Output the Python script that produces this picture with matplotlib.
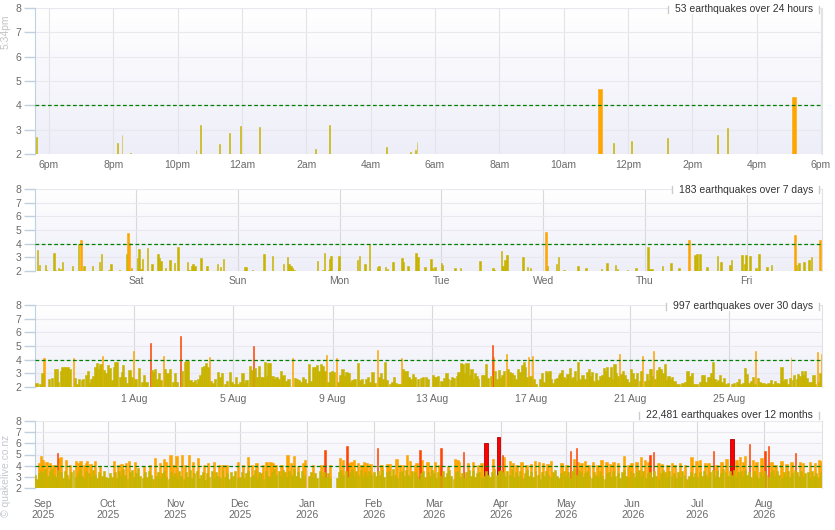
import numpy as np
import matplotlib
matplotlib.use('Agg')
import matplotlib.pyplot as plt
from matplotlib.colors import LinearSegmentedColormap
from matplotlib.patches import Rectangle
from matplotlib.lines import Line2D
from matplotlib.transforms import IdentityTransform

plt.rcParams['font.family'] = ['Liberation Sans', 'DejaVu Sans']

# ---- data: 24 hours (time in hours from midnight of the previous day, magnitude) ----
day_t = [17.62, 20.14, 20.27, 20.52, 22.57, 22.70, 23.29, 23.60, 23.94, 24.55,
         26.27, 26.71, 28.48, 29.23, 29.38, 29.44, 35.14, 35.54, 36.10, 37.22,
         38.78, 39.09, 41.16]
day_m = [2.7, 2.45, 2.8, 2.05, 2.15, 3.2, 2.4, 2.85, 3.15, 3.1,
         2.2, 3.2, 2.3, 2.1, 2.15, 2.5, 4.67, 2.45, 2.55, 2.65,
         2.8, 3.05, 4.34]
day_ticks = [18, 20, 22, 24, 26, 28, 30, 32, 34, 36, 38, 40, 42]
day_labels = ['6pm', '8pm', '10pm', '12am', '2am', '4am', '6am', '8am', '10am',
              '12pm', '2pm', '4pm', '6pm']

# ---- data: 7 days (time in days, Sat = 1) ----
week_t = [0.034, 0.050, 0.113, 0.122, 0.195, 0.204, 0.240, 0.260, 0.280, 0.378,
          0.437, 0.460, 0.489, 0.574, 0.640, 0.663, 0.735, 0.754, 0.840, 0.908,
          0.921, 0.935, 0.957, 1.016, 1.029, 1.049, 1.065, 1.115, 1.157, 1.216,
          1.229, 1.246, 1.291, 1.334, 1.380, 1.413, 1.508, 1.521, 1.550, 1.560,
          1.580, 1.639, 1.697, 1.802, 1.832, 1.861, 2.064, 2.081, 2.146, 2.257,
          2.342, 2.451, 2.490, 2.506, 2.523, 2.539, 2.552, 2.785, 2.840, 2.853,
          2.896, 2.906, 2.916, 2.988, 2.994, 3.177, 3.197, 3.250, 3.295, 3.374,
          3.387, 3.453, 3.469, 3.525, 3.613, 3.626, 3.672, 3.750, 3.773, 3.839,
          3.898, 3.911, 3.937, 4.003, 4.012, 4.134, 4.189, 4.379, 4.507, 4.517,
          4.592, 4.608, 4.625, 4.644, 4.805, 4.847, 4.877, 5.028, 5.041, 5.132,
          5.149, 5.204, 5.342, 5.420, 5.574, 5.627, 5.712, 5.732, 5.830, 5.912,
          6.029, 6.052, 6.069, 6.174, 6.255, 6.337, 6.432, 6.491, 6.514, 6.540,
          6.609, 6.714, 6.747, 6.838, 6.851, 6.953, 6.982, 6.995, 7.031, 7.094,
          7.120, 7.202, 7.244, 7.473, 7.490, 7.513, 7.562, 7.614, 7.637, 7.719]
week_m = [3.55, 2.45, 2.45, 2.1, 3.3, 2.05, 2.2, 2.15, 2.65, 2.4,
          3.95, 4.27, 2.4, 2.4, 2.65, 3.25, 2.1, 2.5, 2.1, 3.25,
          4.78, 4.05, 2.2, 2.95, 3.6, 2.15, 2.9, 3.65, 2.5, 3.25,
          2.95, 2.75, 2.25, 2.8, 2.55, 3.75, 2.65, 2.1, 2.4, 2.5,
          2.4, 2.95, 2.4, 2.5, 2.3, 2.9, 2.3, 2.3, 2.05, 3.25,
          3.1, 2.5, 3.0, 2.5, 2.4, 2.25, 2.1, 2.75, 2.05, 3.35,
          2.05, 2.9, 3.1, 2.3, 3.1, 2.8, 3.1, 2.5, 3.95, 2.3,
          2.4, 2.3, 2.15, 2.65, 2.95, 2.65, 2.4, 3.3, 3.05, 2.3,
          2.9, 2.25, 2.3, 2.6, 2.45, 2.2, 2.2, 2.75, 2.2, 2.05,
          3.45, 2.4, 2.8, 3.15, 3.05, 2.3, 2.2, 4.83, 2.4, 2.5,
          3.0, 2.05, 2.4, 2.2, 2.15, 2.6, 2.45, 2.15, 2.05, 2.2,
          3.75, 2.15, 2.15, 2.4, 2.6, 2.2, 4.27, 3.15, 3.25, 3.25,
          2.3, 3.1, 2.65, 2.45, 2.8, 3.15, 2.5, 3.15, 3.1, 2.2,
          3.25, 2.3, 2.45, 4.63, 2.45, 2.55, 2.65, 2.8, 3.0, 4.27]
week_ticks = [1, 2, 3, 4, 5, 6, 7]
week_labels = ['Sat', 'Sun', 'Mon', 'Tue', 'Wed', 'Thu', 'Fri']

# ---- data: 30 days (time in days after 1 Aug 00:00) ----
month_t = [-3.94, -3.80, -3.70, -3.66, -3.60, -3.43, -3.33, -3.20, -3.10, -3.06,
           -2.96, -2.89, -2.80, -2.69, -2.58, -2.45, -2.38, -2.30, -2.22, -2.12,
           -2.06, -1.95, -1.87, -1.81, -1.72, -1.65, -1.56, -1.49, -1.42, -1.36,
           -1.28, -1.21, -1.14, -1.05, -0.98, -0.90, -0.82, -0.75, -0.69, -0.58,
           -0.50, -0.44, -0.36, -0.28, -0.19, -0.11, -0.03, 0.05, 0.20, 0.30,
           0.39, 0.50, 0.65, 0.71, 0.78, 0.85, 0.91, 0.99, 1.06, 1.18,
           1.24, 1.34, 1.44, 1.57, 1.65, 1.73, 1.87, 1.92, 2.04, 2.11,
           2.18, 2.27, 2.35, 2.45, 2.51, 2.58, 2.65, 2.74, 2.81, 2.89,
           2.97, 3.02, 3.10, 3.19, 3.25, 3.39, 3.45, 3.55, 3.66, 3.75,
           3.86, 3.94, 4.02, 4.10, 4.18, 4.26, 4.37, 4.46, 4.53, 4.66,
           4.74, 4.81, 4.88, 4.95, 5.04, 5.11, 5.17, 5.26, 5.34, 5.40,
           5.47, 5.58, 5.66, 5.74, 5.82, 5.91, 5.98, 6.05, 6.14, 6.22,
           6.38, 6.47, 6.55, 6.63, 6.71, 6.81, 6.90, 6.98, 7.06, 7.14,
           7.22, 7.30, 7.38, 7.46, 7.53, 7.59, 7.67, 7.76, 7.82, 7.89,
           7.97, 8.05, 8.16, 8.24, 8.32, 8.40, 8.48, 8.56, 8.64, 8.72,
           8.80, 8.88, 9.03, 9.10, 9.18, 9.26, 9.34, 9.42, 9.50, 9.61,
           9.69, 9.81, 9.89, 9.96, 10.04, 10.11, 10.20, 10.31, 10.39, 10.47,
           10.55, 10.66, 10.71, 10.79, 10.85, 10.91, 10.99, 11.06, 11.14, 11.25,
           11.32, 11.45, 11.56, 11.65, 11.75, 11.86, 12.06, 12.15, 12.26, 12.39,
           12.50, 12.59, 12.66, 12.76, 12.82, 12.90, 13.00, 13.07, 13.16, 13.24,
           13.33, 13.39, 13.47, 13.54, 13.60, 13.67, 13.74, 13.81, 13.87, 14.01,
           14.10, 14.19, 14.26, 14.38, 14.45, 14.49, 14.56, 14.64, 14.71, 14.79,
           14.85, 14.92, 15.01, 15.08, 15.15, 15.21, 15.30, 15.38, 15.46, 15.55,
           15.62, 15.70, 15.77, 15.84, 15.91, 15.98, 16.06, 16.13, 16.21, 16.36,
           16.43, 16.51, 16.59, 16.65, 16.74, 16.80, 16.90, 16.96, 17.06, 17.12,
           17.19, 17.26, 17.33, 17.39, 17.47, 17.57, 17.64, 17.70, 17.77, 17.84,
           17.90, 17.98, 18.07, 18.17, 18.27, 18.33, 18.40, 18.47, 18.55, 18.62,
           18.71, 18.78, 18.85, 18.93, 18.99, 19.07, 19.14, 19.21, 19.27, 19.36,
           19.42, 19.49, 19.57, 19.64, 19.72, 19.79, 19.85, 19.95, 20.03, 20.11,
           20.19, 20.28, 20.38, 20.44, 20.51, 20.59, 20.67, 20.74, 20.82, 20.89,
           20.94, 21.01, 21.09, 21.17, 21.24, 21.32, 21.39, 21.47, 21.54, 21.60,
           21.67, 21.78, 21.87, 21.98, 22.11, 22.21, 22.31, 22.39, 22.48, 22.56,
           22.67, 22.81, 22.90, 22.98, 23.06, 23.15, 23.24, 23.32, 23.40, 23.48,
           23.55, 23.62, 23.68, 23.79, 23.86, 23.93, 24.09, 24.19, 24.29, 24.37,
           24.45, 24.56, 24.63, 24.71, 24.79, 24.87, 24.95, 25.02, 25.06, 25.14,
           25.23, 25.32, 25.40, 25.46, 25.57, 25.67, 25.74, 25.83, 25.94, 26.03,
           26.10, 26.18, 26.26, 26.34, 26.43, 26.48, 26.55, 26.61, 26.71, 26.77,
           26.84, 26.91, 26.98, 27.05, 27.11, 27.21, 27.29, 27.39, 27.46, 27.53,
           27.61, 27.66, 27.71]
month_m = [2.3, 2.2, 3.0, 4.1, 4.15, 2.6, 2.65, 3.3, 3.3, 2.4,
           3.15, 3.45, 3.5, 3.45, 3.35, 4.1, 2.65, 2.2, 2.6, 2.5,
           2.55, 2.85, 3.2, 2.3, 2.6, 2.8, 3.5, 3.75, 3.3, 3.65,
           4.3, 3.25, 3.0, 3.6, 3.4, 2.5, 3.5, 3.85, 3.8, 2.7,
           3.1, 3.6, 2.75, 2.3, 3.25, 2.75, 4.65, 2.55, 3.4, 2.4,
           2.9, 2.4, 5.2, 3.25, 3.1, 3.35, 2.6, 3.0, 2.5, 4.25,
           3.35, 3.0, 3.35, 2.35, 3.0, 2.4, 5.75, 3.2, 3.85, 3.9,
           3.9, 2.5, 2.35, 2.5, 2.25, 2.55, 2.85, 3.5, 3.55, 3.75,
           3.45, 4.2, 2.45, 2.3, 2.6, 3.1, 2.7, 3.05, 2.2, 2.45,
           3.1, 2.35, 2.2, 2.7, 2.2, 2.35, 3.05, 2.3, 2.5, 3.55,
           3.25, 5.0, 3.4, 2.75, 3.55, 2.7, 2.7, 3.8, 2.8, 3.75,
           3.75, 2.8, 2.6, 2.7, 2.55, 3.2, 2.8, 2.9, 2.45, 2.6,
           4.15, 2.65, 2.6, 2.5, 2.35, 2.75, 2.6, 2.3, 3.7, 2.45,
           3.5, 3.45, 3.6, 3.2, 3.7, 3.55, 3.15, 4.35, 2.4, 3.1,
           3.2, 3.1, 4.15, 2.4, 2.9, 3.3, 2.8, 3.1, 3.0, 2.4,
           2.5, 2.6, 3.75, 2.5, 2.6, 2.25, 2.6, 2.7, 2.4, 3.1,
           2.3, 4.7, 2.7, 3.05, 2.6, 3.8, 2.5, 2.2, 2.35, 2.7,
           2.3, 2.2, 2.2, 4.1, 3.35, 3.15, 3.2, 2.75, 2.6, 2.95,
           2.7, 2.6, 2.65, 2.75, 2.7, 2.6, 2.9, 2.75, 2.8, 2.45,
           2.65, 3.0, 2.6, 2.5, 2.75, 2.65, 2.8, 3.1, 3.75, 3.7,
           3.0, 3.75, 3.75, 2.9, 3.35, 2.6, 3.05, 2.8, 2.55, 2.85,
           2.9, 3.65, 2.65, 2.8, 5.05, 4.2, 3.2, 2.6, 3.25, 2.65,
           2.9, 3.2, 4.45, 3.35, 3.1, 3.05, 2.9, 2.6, 3.3, 3.1,
           3.6, 3.85, 3.45, 2.75, 4.2, 2.8, 4.25, 2.55, 2.2, 2.6,
           3.0, 2.4, 3.2, 3.05, 3.15, 2.6, 2.3, 2.55, 2.65, 2.85,
           3.0, 3.25, 2.75, 2.6, 2.95, 3.4, 2.6, 2.75, 3.15, 2.45,
           3.85, 2.55, 2.85, 2.6, 3.1, 3.3, 2.8, 3.1, 2.45, 3.0,
           2.5, 2.8, 2.9, 3.4, 3.2, 3.45, 2.75, 3.5, 2.55, 3.7,
           3.05, 2.8, 4.45, 2.95, 3.15, 2.9, 2.6, 2.35, 3.35, 3.05,
           2.6, 3.0, 2.45, 3.2, 4.3, 2.45, 2.95, 2.5, 3.3, 2.8,
           4.6, 2.6, 3.25, 3.45, 3.3, 3.05, 3.7, 2.5, 2.8, 2.55,
           2.7, 2.45, 2.25, 2.2, 2.3, 2.4, 3.2, 2.8, 3.0, 2.25,
           2.25, 2.35, 2.9, 2.85, 2.4, 2.75, 3.0, 3.85, 2.55, 2.35,
           2.5, 2.85, 2.4, 2.65, 2.25, 2.3, 2.25, 2.3, 2.4, 2.6,
           2.25, 2.3, 3.4, 2.95, 2.3, 2.45, 2.7, 2.25, 4.65, 2.65,
           2.4, 2.3, 2.3, 2.25, 2.3, 2.5, 2.25, 2.45, 2.3, 2.2,
           3.5, 2.45, 2.55, 2.25, 2.65, 4.2, 2.5, 2.85, 2.6, 2.95,
           2.8, 3.15, 2.85, 3.15, 2.65, 2.4, 2.35, 2.85, 2.2, 4.55,
           2.35, 3.0, 4.45]
month_ticks = [0, 4, 8, 12, 16, 20, 24]
month_labels = ['1 Aug', '5 Aug', '9 Aug', '13 Aug', '17 Aug', '21 Aug', '25 Aug']

# ---- data: 12 months (days after 1 Sep 2025) ----
# daily upper level of the bulk of small quakes, 28 Aug 2025 .. 27 Aug 2026
base_pre = [3.2, 2.8, 3.3, 3.5]
base_sep = [3.4, 3.7, 3.1, 3.5, 3.8, 3.2, 3.0, 3.6, 3.4, 2.9, 3.5, 3.2, 2.8, 3.4, 3.6,
            3.0, 3.3, 3.7, 3.1, 2.9, 3.5, 3.3, 3.0, 3.6, 3.2, 2.9, 3.4, 3.1, 3.5, 3.0]
base_oct = [2.9, 3.3, 3.0, 3.4, 2.9, 3.5, 3.1, 3.7, 3.2, 2.8, 3.4, 3.6, 3.0, 3.3, 3.8, 3.1,
            2.9, 3.4, 3.0, 3.5, 3.2, 2.8, 3.1, 3.4, 2.9, 3.3, 3.5, 3.0, 2.8, 3.4, 3.1]
base_nov = [3.3, 2.9, 3.5, 3.1, 2.8, 3.4, 3.0, 3.6, 2.9, 3.3, 3.5, 2.9, 3.2, 3.4, 2.7,
            3.3, 3.0, 3.5, 2.9, 3.4, 3.1, 2.9, 3.6, 3.0, 3.3, 2.8, 3.4, 3.1, 3.5, 2.9]
base_dec = [3.0, 3.4, 2.9, 3.3, 3.5, 3.0, 3.2, 3.6, 2.9, 3.4, 3.3, 2.8, 3.5, 3.1, 3.0, 3.4,
            3.7, 3.2, 3.5, 3.1, 3.6, 3.4, 3.0, 3.5, 3.2, 3.7, 3.1, 3.4, 2.9, 3.5, 3.2]
base_jan = [0, 3.1, 3.4, 3.0, 3.3, 2.9, 3.5, 3.1, 3.4, 3.0, 3.3, 2.9, 0, 0, 2.9, 3.4,
            3.6, 3.2, 3.5, 3.0, 3.4, 3.7, 3.1, 3.5, 3.2, 3.6, 3.0, 3.4, 3.1, 3.5, 3.2]
base_feb = [3.4, 3.1, 3.5, 3.2, 3.6, 3.0, 3.4, 3.5, 3.1, 3.7, 3.2, 2.9, 3.4, 3.5,
            3.1, 3.6, 3.2, 3.0, 3.5, 3.4, 3.1, 2.8, 3.3, 3.5, 3.0, 3.4, 3.1, 3.6]
base_mar = [3.3, 2.9, 3.4, 3.1, 3.5, 3.0, 3.3, 3.6, 3.1, 2.8, 3.4, 3.5, 3.0, 3.3, 2.9, 3.4,
            3.6, 3.1, 3.5, 3.0, 3.3, 3.4, 2.9, 3.1, 3.5, 3.2, 3.0, 3.4, 3.7, 3.2, 3.5]
base_apr = [3.6, 3.4, 3.1, 3.5, 3.2, 3.7, 3.0, 3.4, 3.1, 3.5, 2.9, 3.3, 3.6, 3.1, 3.4,
            3.0, 3.5, 3.2, 2.8, 3.4, 3.1, 3.5, 3.2, 3.0, 3.4, 3.6, 3.1, 2.9, 3.3, 3.5]
base_may = [3.1, 3.4, 2.9, 3.5, 3.7, 3.2, 3.6, 3.4, 3.0, 3.3, 3.5, 3.1, 2.9, 3.4, 3.2, 3.0,
            3.5, 3.1, 2.8, 3.3, 3.4, 3.0, 3.5, 3.1, 3.3, 2.9, 3.4, 3.6, 3.1, 3.0, 3.5]
base_jun = [3.3, 3.0, 3.4, 3.6, 3.1, 3.5, 2.9, 3.3, 3.4, 3.0, 3.5, 3.1, 2.8, 3.3, 3.6,
            3.4, 3.0, 3.5, 3.1, 3.3, 2.9, 3.4, 3.0, 3.5, 3.2, 2.8, 3.1, 3.4, 3.0, 3.3]
base_jul = [3.0, 3.4, 3.1, 3.5, 3.2, 2.9, 3.4, 3.6, 3.1, 3.5, 3.0, 3.3, 3.7, 3.4, 3.1, 3.5,
            3.2, 3.6, 3.0, 3.4, 3.5, 3.1, 3.6, 3.2, 3.4, 3.0, 3.5, 3.2, 2.9, 3.4, 3.1]
base_aug = [3.5, 3.2, 3.0, 3.4, 3.6, 3.1, 3.5, 3.2, 2.9, 3.4, 3.1, 3.5, 3.0, 3.3,
            3.6, 3.4, 3.1, 3.5, 3.0, 3.3, 3.4, 2.9, 3.5, 3.1, 3.3, 3.0, 3.4]

# larger quakes over the 12 months
year_t = [-1.85, -0.93, -0.31, 1.54, 3.09, 4.63, 5.40, 6.64, 7.26, 8.18,
          10.50, 12.35, 15.13, 16.21, 17.29, 18.84, 19.76, 20.38, 21.92, 24.09,
          26.25, 32.73, 34.74, 36.28, 38.29, 39.68, 42.46, 46.63, 49.41, 51.72,
          54.04, 55.89, 56.82, 58.98, 60.21, 61.76, 64.38, 65.62, 67.47, 69.48,
          71.79, 74.42, 76.42, 79.20, 81.52, 83.06, 84.92, 90.32, 92.64, 94.80,
          96.80, 98.81, 101.90, 103.44, 105.30, 106.22, 107.77, 110.39, 113.17, 114.71,
          116.26, 118.11, 120.43, 121.20, 125.06, 128.92, 130.46, 132.78, 137.41, 138.95,
          140.65, 141.73, 142.81, 143.89, 145.90, 147.44, 148.53, 149.76, 151.61, 154.86,
          156.71, 159.49, 160.57, 163.66, 165.20, 166.74, 168.60, 169.83, 172.15, 172.93,
          174.47, 175.24, 178.02, 179.56, 181.42, 183.27, 184.19, 187.59, 190.68, 191.91,
          192.69, 194.54, 196.85, 199.17, 201.49, 203.03, 204.97, 208.44, 210.92, 212.61,
          213.54, 216.17, 217.71, 219.26, 221.57, 223.89, 225.90, 227.75, 229.60, 231.61,
          233.62, 235.16, 240.10, 242.42, 244.27, 245.97, 246.90, 247.82, 249.37, 250.91,
          252.46, 254.77, 256.78, 258.63, 260.95, 262.49, 264.04, 266.35, 268.98, 270.99,
          272.53, 274.85, 276.85, 278.71, 280.25, 281.02, 282.72, 284.88, 286.73, 289.20,
          291.36, 292.60, 294.91, 297.23, 300.32, 302.64, 304.18, 306.50, 308.04, 310.36,
          311.90, 314.22, 316.53, 319.00, 321.17, 322.71, 324.25, 325.03, 327.03, 328.88,
          330.43, 332.74, 334.29, 335.83, 337.38, 339.23, 342.01, 344.32, 346.64, 348.49,
          350.50, 352.04, 355.13, 357.45, 359.30, 360.40]
year_m = [4.25, 4.85, 4.5, 4.3, 4.25, 4.05, 4.1, 5.1, 4.7, 4.75,
          4.5, 4.1, 4.45, 4.25, 4.4, 4.05, 4.25, 4.4, 4.15, 4.45,
          4.0, 4.4, 4.05, 4.15, 4.2, 4.4, 4.3, 4.0, 4.05, 4.7,
          4.2, 4.6, 4.35, 4.95, 4.05, 4.9, 4.95, 4.1, 4.95, 4.35,
          4.7, 4.05, 4.2, 4.35, 4.1, 4.05, 4.1, 4.35, 4.1, 4.75,
          4.1, 4.2, 4.05, 4.3, 4.3, 4.2, 4.1, 4.05, 4.95, 4.25,
          4.85, 4.0, 4.25, 4.5, 4.1, 4.05, 5.4, 4.1, 4.7, 4.5,
          5.75, 4.25, 4.35, 4.5, 4.25, 4.1, 4.35, 4.2, 4.15, 5.55,
          4.05, 4.15, 4.15, 4.6, 4.05, 4.1, 4.95, 4.4, 4.05, 4.2,
          5.4, 4.5, 4.3, 4.0, 4.3, 4.05, 5.55, 4.0, 4.6, 4.55,
          4.35, 5.25, 4.2, 4.3, 4.05, 4.25, 6.05, 4.6, 6.57, 5.0,
          4.75, 4.4, 4.2, 4.05, 4.35, 4.1, 4.15, 4.4, 4.35, 4.2,
          4.15, 4.4, 4.25, 4.05, 5.3, 4.6, 5.55, 4.3, 4.25, 4.4,
          4.1, 4.3, 4.05, 4.5, 4.35, 4.15, 4.3, 4.2, 4.85, 4.05,
          4.25, 4.35, 4.75, 4.55, 4.3, 5.0, 5.2, 4.2, 4.15, 4.05,
          4.2, 4.1, 4.25, 4.1, 4.8, 4.4, 4.55, 4.25, 4.2, 5.35,
          4.1, 4.3, 4.6, 6.42, 4.55, 4.75, 4.35, 4.85, 5.9, 4.5,
          4.3, 4.65, 5.3, 5.75, 4.35, 4.1, 4.4, 4.15, 4.3, 5.15,
          4.35, 4.2, 4.3, 4.2, 4.5, 4.4]
year_ticks = [0, 30, 61, 91, 122, 153, 181, 212, 242, 273, 303, 334]
year_labels = ['Sep\n2025', 'Oct\n2025', 'Nov\n2025', 'Dec\n2025', 'Jan\n2026', 'Feb\n2026',
               'Mar\n2026', 'Apr\n2026', 'May\n2026', 'Jun\n2026', 'Jul\n2026', 'Aug\n2026']

titles = ['53 earthquakes over 24 hours', '183 earthquakes over 7 days',
          '997 earthquakes over 30 days', '22,481 earthquakes over 12 months']

# colours by magnitude class: <4, 4-5, 5-6, 6+
COLORS = ['#c8b400', '#ffa500', '#ff4500', '#ff0000']
BG = LinearSegmentedColormap.from_list('bg', ['#eeeef9', '#ffffff'])

W, H = 835, 530
fig = plt.figure(figsize=(W / 100, H / 100), dpi=100)


def add_panel(top, bottom):
    return fig.add_axes([35 / W, 1 - bottom / H, 787 / W, (bottom - top) / H])


def style_panel(ax, xlim, ticks, labels, xpad, vgrid='#d9d9d9'):
    ax.imshow(np.linspace(0, 1, 64).reshape(-1, 1), extent=(xlim[0], xlim[1], 2, 8),
              origin='lower', aspect='auto', cmap=BG, zorder=0)
    ax.set_xlim(xlim)
    ax.set_ylim(2, 8)
    ax.set_yticks(range(2, 9))
    ax.set_xticks(ticks)
    ax.set_xticklabels(labels)
    ax.tick_params(axis='y', length=8, width=1, color='#c0d0e0', pad=2,
                   labelsize=7.5, labelcolor='#6a6a6a')
    ax.tick_params(axis='x', length=0, pad=xpad, labelsize=7.5, labelcolor='#6a6a6a')
    for s in ('top', 'bottom'):
        ax.spines[s].set_visible(False)
    ax.spines['left'].set_color('#c0d0e0')
    ax.spines['right'].set_color('#e2e2e2')
    ax.grid(axis='y', color='#e8e8ee', lw=0.8)
    ax.grid(axis='x', color=vgrid, lw=0.8)
    ax.set_axisbelow(True)
    ax.axhline(4, color='#008000', lw=0.9, ls=(0, (3, 2)), zorder=4)


def draw_quakes(ax, t, m, widths):
    t = np.asarray(t, float)
    m = np.asarray(m, float)
    keep = m > 2
    t, m = t[keep], m[keep]
    cls = np.digitize(m, [4, 5, 6])
    for c in (1, 2, 3, 0):
        sel = cls == c
        if sel.any():
            ax.bar(t[sel], m[sel] - 2, bottom=2, width=widths[c], color=COLORS[c],
                   edgecolor='#b00000' if c == 3 else COLORS[c],
                   linewidth=0.6 if c == 3 else 0.4,
                   zorder=3 if c == 0 else 2)


ax1 = add_panel(8, 154)
style_panel(ax1, (17.565, 42.03), day_ticks, day_labels, 4.5, vgrid='#e4e4e8')
draw_quakes(ax1, day_t, day_m, [0.03, 0.12, 0.12, 0.12])

ax2 = add_panel(189, 271)
style_panel(ax2, (0.008, 7.74), week_ticks, week_labels, 3.9)
draw_quakes(ax2, week_t, week_m, [0.015, 0.015, 0.015, 0.015])

ax3 = add_panel(305, 387)
style_panel(ax3, (-4.0, 27.73), month_ticks, month_labels, 5.2)
draw_quakes(ax3, month_t, month_m, [0.09, 0.04, 0.05, 0.05])

ax4 = add_panel(421, 488)
style_panel(ax4, (-3.84, 360.7), year_ticks, year_labels, 7.6)
base = (base_pre + base_sep + base_oct + base_nov + base_dec + base_jan + base_feb
        + base_mar + base_apr + base_may + base_jun + base_jul + base_aug)
draw_quakes(ax4, year_t, year_m, [1.0, 1.1, 0.7, 1.7])
draw_quakes(ax4, -4 + np.arange(len(base)), base, [0.9, 0.9, 0.9, 0.9])

# side captions
fig.text(6 / W, 1 - 32 / H, '5:34pm', rotation=90, ha='center', va='center',
         fontsize=7.5, color='#c4c4c4')
fig.text(6 / W, 1 - 476 / H, '\u00a9 quakelive.co.nz', rotation=90, ha='center',
         va='center', fontsize=7.5, color='#c4c8d0')

# count boxes at top right of each panel
title_y = [9, 190, 306, 415]
txts = [fig.text(813 / W, 1 - y / H, s, ha='right', va='center', fontsize=7.5,
                 color='#333333', zorder=6) for s, y in zip(titles, title_y)]
fig.canvas.draw()
renderer = fig.canvas.get_renderer()
for txt in txts:
    e = txt.get_window_extent(renderer)
    x0, x1 = e.x0 - 7, e.x1 + 6
    fig.add_artist(Rectangle((x0, e.y0), x1 - x0, e.height, transform=IdentityTransform(),
                             facecolor='white', edgecolor='none', zorder=5))
    for x in (x0, x1):
        fig.add_artist(Line2D([x, x], [e.y0 + 1.5, e.y1 - 1.5], transform=IdentityTransform(),
                              color='#cccccc', lw=1, zorder=5))

fig.savefig('out.png', dpi=100)
